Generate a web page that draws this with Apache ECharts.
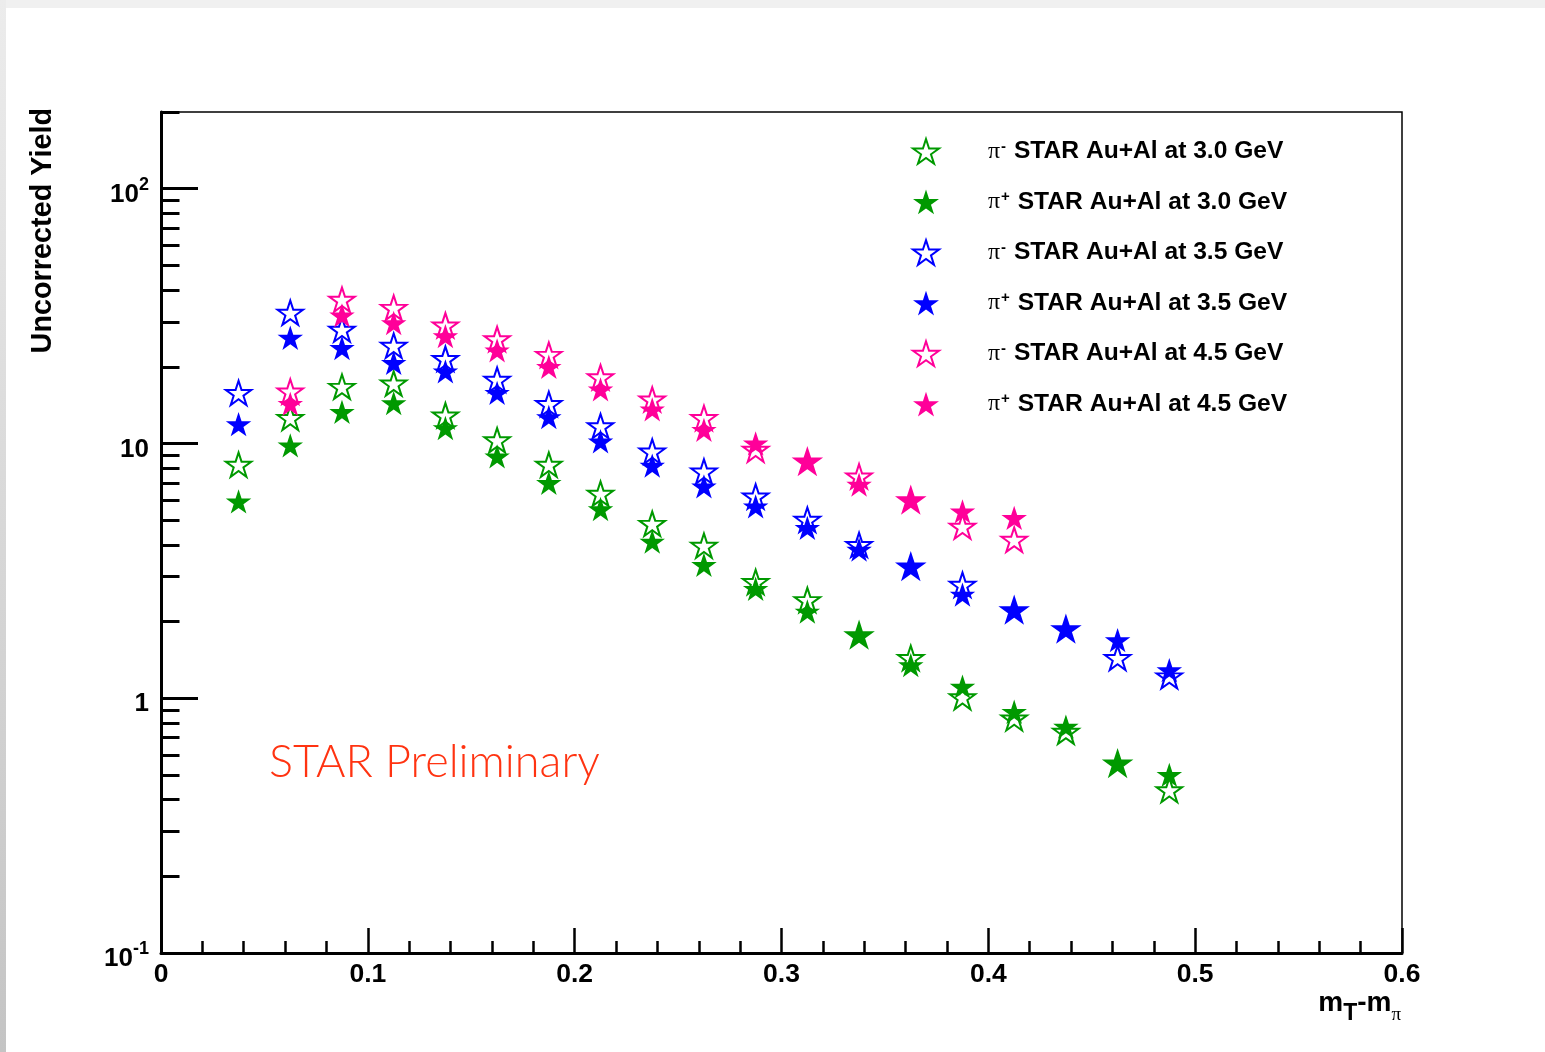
<!DOCTYPE html>
<html>
<head>
<meta charset="utf-8">
<title>Uncorrected pion yield, STAR Au+Al</title>
<script src="https://cdn.jsdelivr.net/npm/echarts@6/dist/echarts.min.js"></script>
<style>
  html, body { margin: 0; padding: 0; background: #ffffff; }
  #chart { width: 1545px; height: 1052px; }
</style>
</head>
<body>
<div id="chart"></div>
<script>
// m_T - m_pi bin centres (GeV)
const mtBins = [0.0375, 0.0625, 0.0875, 0.1125, 0.1375, 0.1625, 0.1875, 0.2125, 0.2375, 0.2625,
                0.2875, 0.3125, 0.3375, 0.3625, 0.3875, 0.4125, 0.4375, 0.4625, 0.4875];

// Uncorrected yields per bin (null = no point in that bin)
const piMinus30 = [8.26, 12.6, 16.7, 17.2, 12.9, 10.3, 8.26, 6.35, 4.84, 3.97,
                   2.86, 2.43, 1.77, 1.44, 1.01, 0.834, 0.739, 0.555, 0.436];
const piPlus30  = [5.92, 9.83, 13.3, 14.4, 11.5, 8.9, 7.0, 5.53, 4.12, 3.34,
                   2.69, 2.19, 1.77, 1.35, 1.11, 0.885, 0.773, 0.555, 0.50];
const piMinus35 = [15.8, 32.6, 28.0, 24.2, 21.5, 17.8, 14.3, 11.7, 9.31, 7.77,
                   6.2, 5.02, 4.0, 3.29, 2.79, 2.22, 1.87, 1.44, 1.22];
const piPlus35  = [11.9, 26.0, 23.7, 20.7, 19.2, 15.8, 12.7, 10.2, 8.18, 6.78,
                   5.66, 4.66, 3.83, 3.29, 2.55, 2.22, 1.87, 1.69, 1.29];
const piMinus45 = [null, 16.0, 36.7, 34.1, 29.1, 25.7, 22.3, 18.2, 14.9, 12.6,
                   9.46, 8.5, 7.43, 6.0, 4.72, 4.19, null, null, null];
const piPlus45  = [null, 14.3, 31.8, 29.7, 26.4, 23.2, 20.0, 16.3, 13.6, 11.3,
                   10.0, 8.51, 6.89, 6.01, 5.41, 5.1, null, null, null];

// Series description
const seriesValues = [piMinus30, piPlus30, piMinus35, piPlus35, piMinus45, piPlus45];
const seriesCharge = ['-', '+', '-', '+', '-', '+'];
const seriesEnergy = ['3.0', '3.0', '3.5', '3.5', '4.5', '4.5'];
const seriesColors = ['#009900', '#009900', '#0000ff', '#0000ff', '#ff0099', '#ff0099'];
const seriesOpen   = [true, false, true, false, true, false];

// Axis ticks
const yMajorTicks = [0.1, 1, 10, 100];
const yMinorTicks = [0.2, 0.3, 0.4, 0.5, 0.6, 0.7, 0.8, 0.9,
                     2, 3, 4, 5, 6, 7, 8, 9,
                     20, 30, 40, 50, 60, 70, 80, 90, 200];

// Five-pointed star marker centred on the origin
function starPath() {
  const pts = [];
  for (let i = 0; i < 10; i++) {
    const r = i % 2 === 0 ? 1 : 0.382;
    const a = -Math.PI / 2 + i * Math.PI / 5;
    pts.push((r * Math.cos(a)).toFixed(4) + ' ' + (r * Math.sin(a)).toFixed(4));
  }
  return 'path://M' + pts.join('L') + 'Z';
}
const STAR = starPath();

const FONT = '"Liberation Sans", Arial, Helvetica, sans-serif';
const SERIF = '"Liberation Serif", "DejaVu Serif", serif';

const seriesNames = seriesValues.map((_, i) =>
  'pi' + seriesCharge[i] + ' STAR Au+Al at ' + seriesEnergy[i] + ' GeV');

const series = seriesValues.map((vals, i) => {
  const data = [];
  vals.forEach((v, k) => { if (v !== null) data.push([mtBins[k], v]); });
  return {
    type: 'scatter',
    name: seriesNames[i],
    data: data,
    symbol: STAR,
    symbolSize: [25.5, 24.3],
    itemStyle: seriesOpen[i]
      ? { color: 'rgba(255,255,255,0)', borderColor: seriesColors[i], borderWidth: 2, borderJoin: 'miter', opacity: 1 }
      : { color: seriesColors[i], borderWidth: 0, opacity: 1 },
    emphasis: { disabled: true },
    silent: true,
    z: 3 + i
  };
});

const chart = echarts.init(document.getElementById('chart'), null, { renderer: 'canvas' });

chart.setOption({
  animation: false,
  backgroundColor: '#ffffff',
  grid: {
    left: 161, top: 112, width: 1241, height: 841,
    show: true, borderColor: '#000000', borderWidth: 1.5, backgroundColor: 'transparent'
  },
  legend: {
    orient: 'vertical',
    left: 907, top: 133,
    itemWidth: 26, itemHeight: 25, itemGap: 24.7,
    selectedMode: false,
    data: seriesNames.map((n) => ({ name: n, icon: STAR })),
    formatter: function (name) {
      const i = seriesNames.indexOf(name);
      return '{gap| }{pi|\u03c0}{sup|' + seriesCharge[i] + '}{t| STAR Au+Al at ' + seriesEnergy[i] + ' GeV}';
    },
    textStyle: {
      color: '#000',
      rich: {
        gap: { width: 44, lineHeight: 25 },
        pi: { fontFamily: SERIF, fontSize: 24, color: '#000', lineHeight: 25, verticalAlign: 'middle' },
        sup: { fontFamily: FONT, fontWeight: 'bold', fontSize: 15, color: '#000', lineHeight: 25, verticalAlign: 'top', padding: [0, 1, 0, 1] },
        t: { fontFamily: FONT, fontWeight: 'bold', fontSize: 24.6, color: '#000', lineHeight: 25, verticalAlign: 'middle' }
      }
    }
  },
  xAxis: [{
    type: 'value',
    min: 0, max: 0.6, interval: 0.1,
    axisLine: { show: true, onZero: false, lineStyle: { color: '#000', width: 3 } },
    axisTick: { show: true, inside: true, length: 25, lineStyle: { color: '#000', width: 2.5 } },
    minorTick: { show: true, splitNumber: 5, length: 12, lineStyle: { color: '#000', width: 2.5 } },
    splitLine: { show: false },
    minorSplitLine: { show: false },
    axisLabel: {
      margin: 8,
      color: '#000',
      fontFamily: FONT, fontWeight: 'bold', fontSize: 26.5,
      formatter: function (v) { return v === 0 ? '0' : v.toFixed(1); }
    }
  }],
  yAxis: [{
    type: 'log', logBase: 10,
    min: 0.1, max: 200,
    axisLine: { show: true, onZero: false, lineStyle: { color: '#000', width: 3 } },
    axisTick: { show: true, inside: true, length: 37, customValues: yMajorTicks, lineStyle: { color: '#000', width: 3 } },
    splitLine: { show: false },
    axisLabel: {
      margin: 12,
      padding: [6, 0, 0, 0],
      customValues: yMajorTicks,
      color: '#000',
      formatter: function (v) {
        if (Math.abs(v - 0.1) < 1e-9) return '{b|10}{s|-1}';
        if (Math.abs(v - 100) < 1e-9) return '{b|10}{s|2}';
        return '{b|' + Math.round(v) + '}';
      },
      rich: {
        b: { fontFamily: FONT, fontWeight: 'bold', fontSize: 26, lineHeight: 32, color: '#000', verticalAlign: 'bottom' },
        s: { fontFamily: FONT, fontWeight: 'bold', fontSize: 18, lineHeight: 32, color: '#000', verticalAlign: 'top' }
      }
    }
  }, {
    type: 'log', logBase: 10,
    min: 0.1, max: 200,
    position: 'left',
    axisLine: { show: false },
    axisTick: { show: true, inside: true, length: 18.5, customValues: yMinorTicks, lineStyle: { color: '#000', width: 3 } },
    axisLabel: { show: false },
    splitLine: { show: false }
  }],
  graphic: [
    {
      type: 'rect', silent: true, z: 0,
      shape: { x: 0, y: 0, width: 1545, height: 8 },
      style: { fill: '#f0f0f0' }
    },
    {
      type: 'rect', silent: true, z: 0,
      shape: { x: 0, y: 0, width: 6, height: 1052 },
      style: {
        fill: new echarts.graphic.LinearGradient(0, 0, 0, 1, [
          { offset: 0, color: '#ececec' },
          { offset: 1, color: '#c4c4c4' }
        ])
      }
    },
    {
      type: 'text', silent: true,
      x: 43.5, y: 108, rotation: Math.PI / 2,
      style: {
        text: 'Uncorrected Yield',
        font: 'bold 28.8px ' + FONT,
        fill: '#000',
        align: 'right', verticalAlign: 'middle'
      }
    },
    {
      type: 'text', silent: true,
      x: 1401, y: 1003,
      style: {
        text: '{m|m}{sub|T}{m|-m}{pi|\u03c0}',
        align: 'right', verticalAlign: 'middle',
        rich: {
          m: { fontFamily: FONT, fontWeight: 'bold', fontSize: 28, lineHeight: 44, fill: '#000', verticalAlign: 'middle' },
          sub: { fontFamily: FONT, fontWeight: 'bold', fontSize: 23, lineHeight: 44, fill: '#000', verticalAlign: 'bottom' },
          pi: { fontFamily: SERIF, fontSize: 19, lineHeight: 40, fill: '#000', verticalAlign: 'bottom' }
        }
      }
    },
    {
      type: 'text', silent: true,
      x: 269, y: 762,
      style: {
        text: 'STAR Preliminary',
        font: '300 45px Lato, "Open Sans", sans-serif',
        fill: '#ff3311',
        align: 'left', verticalAlign: 'middle'
      }
    }
  ],
  series: series
});
</script>
</body>
</html>
